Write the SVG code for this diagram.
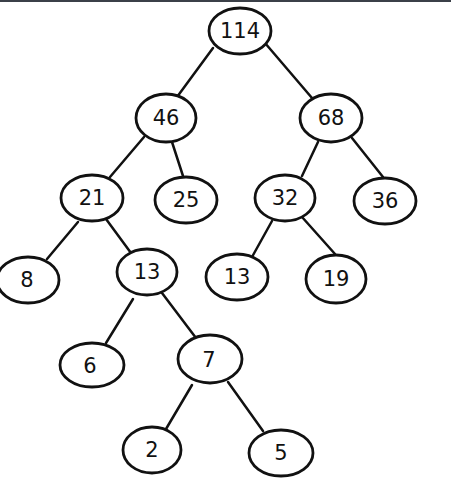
<svg xmlns="http://www.w3.org/2000/svg" width="451" height="484" viewBox="0 0 451 484">
<style>
.n ellipse{fill:#fff;stroke:#111;stroke-width:2.8}
.n text{font-family:"DejaVu Sans",sans-serif;font-size:21px;fill:#111;text-anchor:middle;dominant-baseline:central}
#edges line{stroke:#111;stroke-width:2.5;stroke-linecap:round}
</style>
<rect x="0" y="0" width="451" height="484" fill="#fff"/>
<rect x="0" y="0" width="451" height="2" fill="#3b4048"/>
<g id="edges">
<line x1="213" y1="48" x2="177" y2="97"/>
<line x1="265" y1="43" x2="312" y2="98"/>
<line x1="144" y1="137" x2="110" y2="177"/>
<line x1="172" y1="142" x2="183" y2="176"/>
<line x1="318" y1="142" x2="302" y2="176"/>
<line x1="352" y1="138" x2="383" y2="177"/>
<line x1="78" y1="222" x2="47" y2="259"/>
<line x1="106" y1="219" x2="131" y2="253"/>
<line x1="272" y1="221" x2="252" y2="257"/>
<line x1="302" y1="217" x2="335" y2="254"/>
<line x1="133" y1="299" x2="106" y2="343"/>
<line x1="162" y1="293" x2="196" y2="338"/>
<line x1="192" y1="385" x2="166" y2="429"/>
<line x1="228" y1="382" x2="263" y2="431"/>
</g>
<g id="n114" class="n"><ellipse cx="240" cy="31" rx="31" ry="23"/><text x="240" y="31">114</text></g>
<g id="n46" class="n"><ellipse cx="166" cy="118" rx="30" ry="24"/><text x="166" y="118">46</text></g>
<g id="n68" class="n"><ellipse cx="331" cy="118" rx="31" ry="24"/><text x="331" y="118">68</text></g>
<g id="n21" class="n"><ellipse cx="92" cy="198" rx="31" ry="23"/><text x="92" y="198">21</text></g>
<g id="n25" class="n"><ellipse cx="186" cy="200" rx="31" ry="23"/><text x="186" y="200">25</text></g>
<g id="n32" class="n"><ellipse cx="285" cy="198" rx="30" ry="23"/><text x="285" y="198">32</text></g>
<g id="n36" class="n"><ellipse cx="385" cy="201" rx="31" ry="23"/><text x="385" y="201">36</text></g>
<g id="n8" class="n"><ellipse cx="28" cy="280" rx="31" ry="23"/><text x="27" y="280">8</text></g>
<g id="n13a" class="n"><ellipse cx="147" cy="272" rx="30" ry="23"/><text x="147" y="272">13</text></g>
<g id="n13b" class="n"><ellipse cx="237" cy="277" rx="31" ry="23"/><text x="237" y="277">13</text></g>
<g id="n19" class="n"><ellipse cx="336" cy="279" rx="30" ry="24"/><text x="336" y="279">19</text></g>
<g id="n6" class="n"><ellipse cx="92" cy="365" rx="32" ry="22"/><text x="90" y="366">6</text></g>
<g id="n7" class="n"><ellipse cx="210" cy="359" rx="32" ry="24"/><text x="209" y="360">7</text></g>
<g id="n2" class="n"><ellipse cx="152" cy="450" rx="29" ry="23"/><text x="152" y="450">2</text></g>
<g id="n5" class="n"><ellipse cx="281" cy="453" rx="32" ry="23"/><text x="281" y="453">5</text></g>
</svg>
